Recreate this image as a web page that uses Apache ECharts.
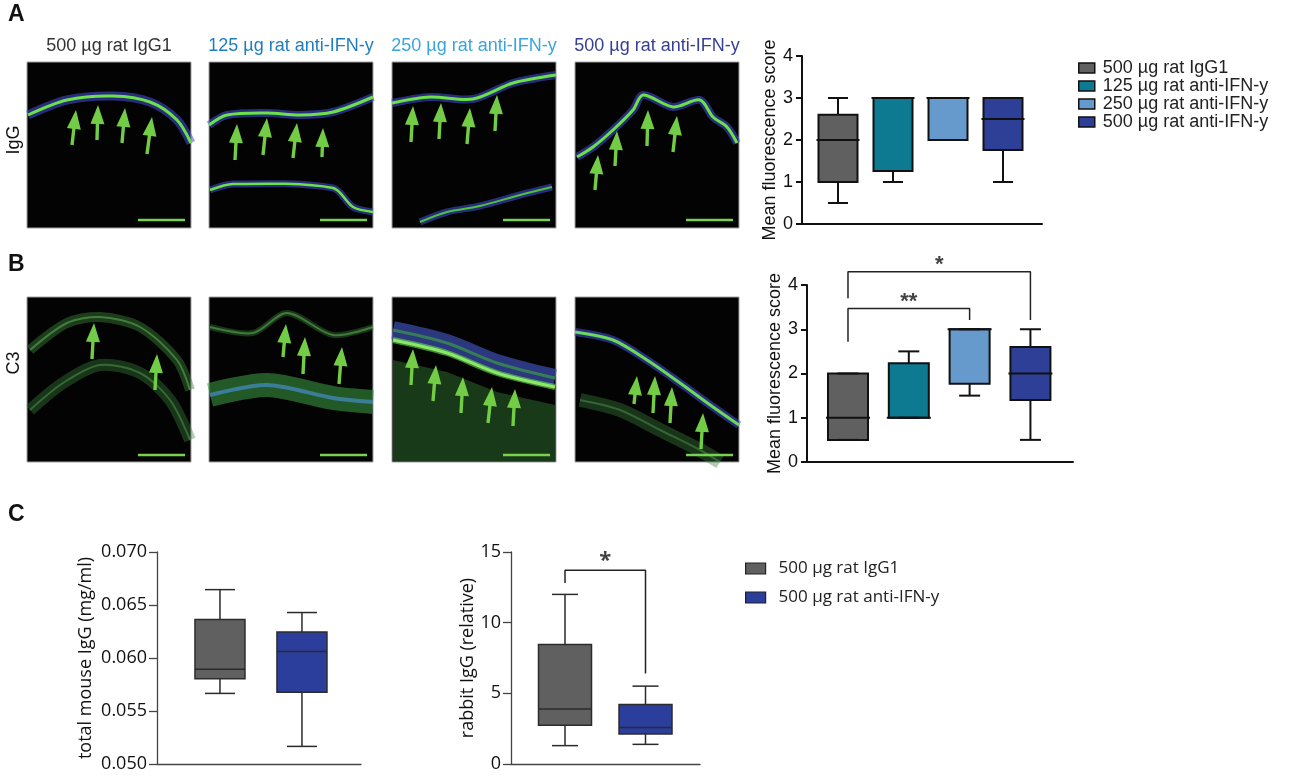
<!DOCTYPE html>
<html><head><meta charset="utf-8">
<script src="https://cdn.jsdelivr.net/npm/echarts@6/dist/echarts.min.js"></script>
<style>html,body{margin:0;padding:0;background:#fff}#c{width:1300px;height:776px}</style>
</head><body><div id="c"></div>
<script>
// ---------- data ----------
const groupsA = ['500 µg rat IgG1','125 µg rat anti-IFN-y','250 µg rat anti-IFN-y','500 µg rat anti-IFN-y'];
const groupsC = ['500 µg rat IgG1','500 µg rat anti-IFN-y'];
// each row: [low whisker, Q1, median, Q3, high whisker]
const igGScore = [[0.5,1.0,2.0,2.6,3.0],[1.0,1.26,3.0,3.0,3.0],[2.0,2.0,3.0,3.0,3.0],[1.0,1.76,2.5,3.0,3.0]];
const c3Score  = [[0.5,0.5,1.0,2.0,2.0],[1.0,1.0,1.0,2.23,2.5],[1.5,1.77,3.0,3.0,3.0],[0.5,1.4,2.0,2.6,3.0]];
const mouseIgG = [[0.05666,0.05804,0.05895,0.06363,0.06645],[0.05166,0.05678,0.06061,0.06246,0.06429]];
const rabbitIgG = [[1.3,2.75,3.89,8.45,12.0],[1.39,2.12,2.59,4.21,5.51]];
const scoreTicks = [0,1,2,3,4];
const mouseTicks = [0.050,0.055,0.060,0.065,0.070];
const rabbitTicks = [0,5,10,15];
// significance: [fromGroup, toGroup, leftLegEnd, barLevel, rightLegEnd, label]
const sigC3 = [[0,2,2.72,3.47,3.21,'**'],[0,3,3.70,4.30,3.21,'*']];
const sigRabbit = [[0,1,12.81,13.7,6.4,'*']];
const imageTitles = ['500 µg rat IgG1','125 µg rat anti-IFN-y','250 µg rat anti-IFN-y','500 µg rat anti-IFN-y'];
const rowLabels = ['IgG','C3'];

// ---------- styles ----------
const fillA = ['#5f605f','#0e7a92','#6699cc','#2e3f98'];
const fillC = ['#5f605f','#2c3e9c'];
const titleColors = ['#333333','#1f7dbd','#3aa5dc','#353f96'];
const HEL = 'Liberation Sans, Arial, Helvetica, sans-serif';
const MYR = 'Open Sans, Noto Sans, sans-serif';
const stA = {boxW:39, capW:20, lineW:2, stroke:'#111', medExt:2};
const stB = {boxW:40, capW:21, lineW:2, stroke:'#111', medExt:2};
const stC1 = {boxW:50, capW:30, lineW:1.5, stroke:'#2b2b2b', medExt:0};
const stC2 = {boxW:53, capW:26, lineW:1.5, stroke:'#2b2b2b', medExt:0};

function boxRender(st){
  return function(params, api){
    const x = api.value(0);
    const lo = api.coord([x, api.value(1)]), q1 = api.coord([x, api.value(2)]),
          md = api.coord([x, api.value(3)]), q3 = api.coord([x, api.value(4)]),
          hi = api.coord([x, api.value(5)]);
    const cx = lo[0], hw = st.boxW/2, hc = st.capW/2;
    const ls = {stroke: st.stroke, lineWidth: st.lineW};
    return {type:'group', children:[
      {type:'line', shape:{x1:cx,y1:hi[1],x2:cx,y2:q3[1]}, style:ls},
      {type:'line', shape:{x1:cx,y1:q1[1],x2:cx,y2:lo[1]}, style:ls},
      {type:'rect', shape:{x:cx-hw,y:q3[1],width:st.boxW,height:q1[1]-q3[1]},
        style:{fill:api.visual('color'), stroke:st.stroke, lineWidth:st.lineW}},
      {type:'line', shape:{x1:cx-hc,y1:hi[1],x2:cx+hc,y2:hi[1]}, style:ls},
      {type:'line', shape:{x1:cx-hc,y1:lo[1],x2:cx+hc,y2:lo[1]}, style:ls},
      {type:'line', shape:{x1:cx-hw-st.medExt,y1:md[1],x2:cx+hw+st.medExt,y2:md[1]}, style:ls}
    ]};
  };
}

function boxSeries(names, vals, fills, st, axisIdx){
  return names.map((n,i)=>({
    type:'custom', name:n, xAxisIndex:axisIdx, yAxisIndex:axisIdx, clip:false,
    renderItem: boxRender(st), itemStyle:{color:fills[i]},
    encode:{x:0, y:[1,2,3,4,5]},
    data:[[i].concat(vals[i])]
  }));
}
function sigSeries(sigs, axisIdx, font, off){
  const out = [];
  sigs.forEach(s=>{
    out.push({type:'line', xAxisIndex:axisIdx, yAxisIndex:axisIdx, clip:false, silent:true,
      symbol:'none', lineStyle:{color:'#222', width:1.5}, animation:false,
      data:[[s[0],s[2]],[s[0],s[3]],[s[1],s[3]],[s[1],s[4]]]});
    out.push({type:'scatter', xAxisIndex:axisIdx, yAxisIndex:axisIdx, clip:false, silent:true,
      symbolSize:1, itemStyle:{color:'rgba(0,0,0,0)'},
      label:{show:true, formatter:s[5], position:'top', distance:1, offset:[0,off], fontSize:22, fontWeight:'bold', color:'#111', fontFamily:font},
      data:[[(s[0]+s[1])/2, s[3]]]});
  });
  return out;
}

function yAx(idx, ticks, name, gap, font, st, fmt){
  return {gridIndex:idx, type:'value', min:ticks[0], max:ticks[ticks.length-1], interval:ticks[1]-ticks[0],
    axisLine:{show:true, onZero:false, lineStyle:{color:st.c, width:st.w}},
    axisTick:{show:true, length:st.tl, lineStyle:{color:st.c, width:st.w}},
    axisLabel:{fontSize:st.fs, color:'#111', margin:st.m, fontFamily:font, formatter:fmt},
    splitLine:{show:false},
    name:name, nameLocation:'middle', nameGap:gap,
    nameTextStyle:{fontSize:st.nfs, color:'#111', fontFamily:font}};
}
function xAx(idx, min, max, st){
  return {gridIndex:idx, type:'value', min:min, max:max,
    axisLine:{show:true, onZero:false, lineStyle:{color:st.c, width:st.w}},
    axisTick:{show:false}, axisLabel:{show:false}, splitLine:{show:false}};
}
const axAB = {c:'#111', w:2, tl:6, fs:18, m:9, nfs:18};
const axC = {c:'#444', w:1.3, tl:8, fs:18, m:10, nfs:18};

// ---------- decorative micrograph panels ----------
const imgCols = [27, 209, 392, 575];
const imgW = 164;
const imgRows = [[62,166],[297,165]];
const rowLabelY = [140, 363];
const G = [];
// panel letters
[['A',8,15],['B',8,265],['C',8,515]].forEach(p=>G.push({type:'text', x:p[1], y:p[2],
  style:{text:p[0], fontSize:23, fontWeight:'bold', fontFamily:HEL, fill:'#111', textVerticalAlign:'middle'}}));
imageTitles.forEach((t,i)=>G.push({type:'text', x:imgCols[i]+imgW/2, y:46,
  style:{text:t, fontSize:18, fontFamily:HEL, fill:titleColors[i], textAlign:'center', textVerticalAlign:'middle'}}));
rowLabels.forEach((t,r)=>G.push({type:'text', x:14, y:rowLabelY[r], rotation:Math.PI/2,
  style:{text:t, fontSize:18, fontFamily:HEL, fill:'#111', textAlign:'center', textVerticalAlign:'middle'}}));
imgRows.forEach(r=>imgCols.forEach(x=>G.push({type:'rect', shape:{x:x,y:r[0],width:imgW,height:r[1]},
  style:{fill:'#030303', stroke:'#a0a0a0', lineWidth:1}})));

function memb(pts, glow, core, gw, cw){
  G.push({type:'polyline', shape:{points:pts, smooth:0.3}, style:{stroke:glow, lineWidth:gw, fill:null}});
  G.push({type:'polyline', shape:{points:pts, smooth:0.3}, style:{stroke:core, lineWidth:cw, fill:null}});
}
const BLUE = 'rgba(70,80,220,0.55)', GREEN = '#6be04a';
// row A membranes
memb([[28,115],[67,100],[113,96],[150,102],[177,120],[191,143]], BLUE, GREEN, 9, 3);
memb([[209,125],[227,115],[267,113],[300,115],[333,112],[373,97]], BLUE, GREEN, 8, 3);
memb([[210,190],[233,184],[333,188],[353,207],[373,212]], BLUE, GREEN, 7, 2.5);
memb([[392,103],[430,97],[473,99],[513,83],[556,75]], BLUE, GREEN, 8, 3);
memb([[420,222],[447,212],[480,206],[520,195],[552,187]], BLUE, '#4fc040', 7, 2);
memb([[577,157],[593,147],[613,130],[633,110],[643,95],[673,107],[700,100],[713,117],[727,127],[737,143]], BLUE, GREEN, 8, 3);
// row B (C3) diffuse signal
memb([[30,350],[67,323],[100,317],[140,327],[177,360],[190,390]], 'rgba(60,130,60,0.45)', 'rgba(90,170,80,0.6)', 10, 2);
memb([[30,410],[63,383],[100,365],[140,373],[170,400],[190,440]], 'rgba(60,130,60,0.4)', 'rgba(80,160,80,0.5)', 12, 2);
memb([[210,327],[253,333],[287,313],[333,335],[373,327]], 'rgba(60,130,60,0.4)', 'rgba(90,170,80,0.6)', 6, 2);
memb([[210,395],[267,385],[333,398],[373,402]], 'rgba(60,160,70,0.55)', 'rgba(70,140,200,0.7)', 24, 4);
G.push({type:'polygon', shape:{points:[[393,360],[447,372],[497,392],[555,405],[555,461],[393,461]]}, style:{fill:'rgba(60,150,60,0.38)'}});
memb([[393,330],[447,343],[497,363],[555,378]], 'rgba(70,90,210,0.6)', 'rgba(60,170,60,0.6)', 18, 3);
memb([[393,340],[447,353],[497,373],[555,387]], 'rgba(90,200,70,0.7)', '#8ce66a', 6, 3);
memb([[575,332],[613,340],[647,360],[680,383],[713,407],[739,425]], BLUE, '#6bd85a', 8, 3);
memb([[580,400],[620,410],[660,430],[700,450],[720,462]], 'rgba(60,130,60,0.4)', 'rgba(80,150,80,0.5)', 14, 2);
// scale bars
imgRows.forEach((r,ri)=>imgCols.forEach(x=>G.push({type:'line',
  shape:{x1:x+imgW-53, y1:r[0]+r[1]-(ri?7:8), x2:x+imgW-6, y2:r[0]+r[1]-(ri?7:8)}, style:{stroke:'#79d24f', lineWidth:2.5}})));
// arrows [tipX, tipY, tailX, tailY]
const arrows = [
 [76,110,72,145],[98,105,97,140],[125,108,122,143],[152,117,147,154],
 [237,124,235,160],[267,118,263,155],[297,123,293,158],[323,128,322,157],
 [413,106,411,142],[441,103,439,139],[470,108,467,144],[497,95,495,131],
 [598,155,595,190],[617,131,615,166],[648,110,647,146],[677,116,673,152],
 [94,323,92,359],[157,354,155,390],
 [286,324,283,357],[305,337,303,374],[342,347,339,384],
 [413,349,411,385],[436,365,433,401],[463,377,461,413],[492,387,488,423],[515,389,513,426],
 [637,376,634,404],[655,376,653,413],[672,387,670,423],[703,413,701,449]
];
arrows.forEach(a=>{
  const dx=a[0]-a[2], dy=a[1]-a[3], L=Math.hypot(dx,dy), ux=dx/L, uy=dy/L, nx=-uy, ny=ux;
  const hl=19, hw=7, sw=1.7;
  const neck=[a[0]-ux*hl, a[1]-uy*hl];
  G.push({type:'polygon', shape:{points:[
    [a[2]+nx*sw,a[3]+ny*sw],[neck[0]+nx*sw,neck[1]+ny*sw],[neck[0]+nx*hw,neck[1]+ny*hw],[a[0],a[1]],
    [neck[0]-nx*hw,neck[1]-ny*hw],[neck[0]-nx*sw,neck[1]-ny*sw],[a[2]-nx*sw,a[3]-ny*sw]]},
    style:{fill:'#72cc45'}});
});

// ---------- chart ----------
const chart = echarts.init(document.getElementById('c'), null, {renderer:'canvas'});
const option = {
  animation:false,
  backgroundColor:'#fff',
  grid:[
    {left:802, top:56, width:240, height:168},
    {left:807, top:285, width:266, height:177},
    {left:157, top:552, width:204, height:212},
    {left:511, top:552, width:189, height:212}
  ],
  xAxis:[
    xAx(0, -0.6545, 3.709, axAB),
    xAx(1, -0.674, 3.70, axAB),
    xAx(2, -0.768, 1.72, axC),
    xAx(3, -0.671, 1.677, axC)
  ],
  yAxis:[
    yAx(0, scoreTicks, 'Mean fluorescence score', 22, HEL, axAB),
    yAx(1, scoreTicks, 'Mean fluorescence score', 21, HEL, axAB),
    yAx(2, mouseTicks, 'total mouse IgG (mg/ml)', 62, MYR, axC, v=>v.toFixed(3)),
    yAx(3, rabbitTicks, 'rabbit IgG (relative)', 34, MYR, axC)
  ],
  legend:[
    {left:1073, top:54, orient:'vertical', itemWidth:16, itemHeight:10, itemGap:0, icon:'rect', selectedMode:false,
      data:groupsA.map((n,i)=>({name:n, itemStyle:{color:fillA[i], borderColor:'#111', borderWidth:1.5}})),
      textStyle:{fontSize:18, fontFamily:HEL, color:'#222', padding:[0,0,0,3]}},
    {left:740, top:555, orient:'vertical', itemWidth:20, itemHeight:11, itemGap:12, icon:'rect', selectedMode:false,
      data:groupsC.map((n,i)=>({name:n, itemStyle:{color:fillC[i], borderColor:'#222', borderWidth:1.2}})),
      textStyle:{fontSize:17, fontFamily:MYR, color:'#222', padding:[0,0,0,8]}}
  ],
  graphic: G,
  series: [].concat(
    boxSeries(groupsA, igGScore, fillA, stA, 0),
    boxSeries(groupsA, c3Score, fillA, stB, 1),
    boxSeries(groupsC, mouseIgG, fillC, stC1, 2),
    boxSeries(groupsC, rabbitIgG, fillC, stC2, 3),
    sigSeries(sigC3, 1, HEL, 6),
    sigSeries(sigRabbit, 3, MYR, 3)
  )
};
chart.setOption(option);
</script></body></html>
